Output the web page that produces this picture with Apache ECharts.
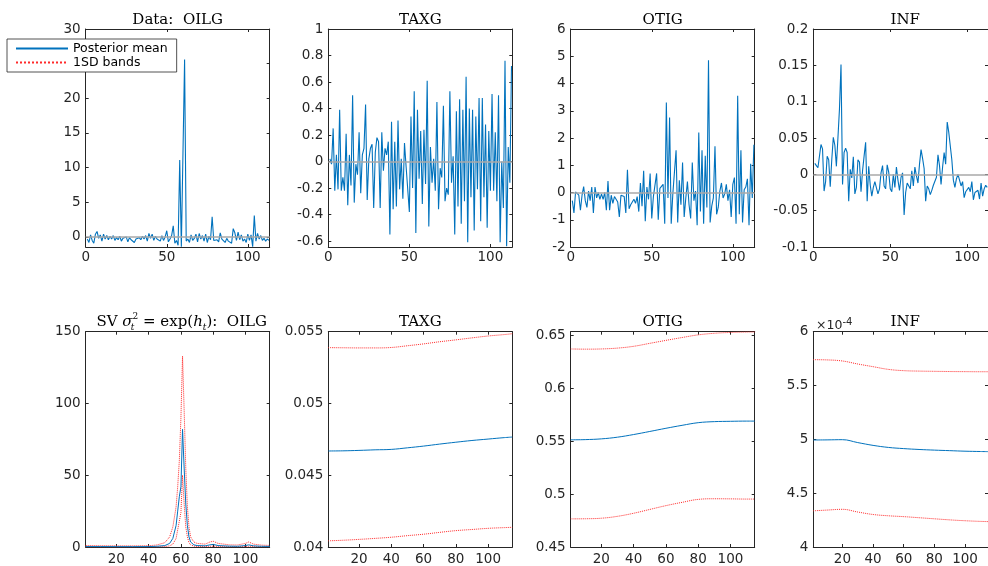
<!DOCTYPE html>
<html><head><meta charset="utf-8">
<script src="https://cdn.jsdelivr.net/npm/echarts@6/dist/echarts.min.js"></script>
<style>html,body{margin:0;padding:0;background:#fff}#c{width:988px;height:566px}</style>
</head><body><div id="c"></div>
<script>
// ---------- Data panels (top row), observations 1..113 ----------
const oilg = [-0.3,-0.8,0.3,-0.5,-0.9,0.4,0.8,-0.2,0.3,-0.6,
  0.4,-0.3,0.2,-0.4,0.1,-0.3,0.2,-0.5,-0.1,-0.4,
  0.1,-0.6,-0.2,-0.3,0.0,-0.7,-0.1,-0.4,-0.2,-0.8,
  -0.3,-0.5,-0.1,-0.4,0.1,-0.3,0.2,-0.6,0.5,-0.2,
  0.4,-0.5,0.1,-0.3,-0.1,-0.6,0.2,-0.5,0.0,0.9,
  -0.7,-0.3,0.2,1.6,-0.9,-0.5,-1.2,11.1,-1.4,-1.3,25.6,
  -0.6,-0.3,-0.8,0.3,-0.5,-0.2,0.4,-0.7,0.5,
  -0.3,0.2,-0.6,0.4,-0.8,0.1,-0.4,2.9,-0.5,-0.6,
  -0.4,-0.7,0.6,-0.3,-0.5,-0.8,-0.2,-0.6,-0.4,-0.9,
  1.2,0.6,-0.5,0.7,-0.4,0.3,-0.6,-0.3,-0.8,0.4,
  -0.5,0.3,-1.4,3.1,-0.6,0.5,-0.3,0.2,-0.5,-0.2,
  -0.6,-0.3,-0.5];
const taxg = [0.02,-0.02,0.25,-0.22,0.05,-0.21,0.39,-0.22,-0.12,-0.22,
  0.21,-0.33,0.05,-0.18,0.50,-0.31,-0.02,-0.10,0.22,-0.24,
  0.05,0.10,0.43,-0.29,0.02,0.10,0.13,-0.35,0.07,0.18,
  0.15,-0.35,0.22,-0.07,0.10,0.05,0.15,-0.55,0.30,-0.36,
  0.15,-0.34,0.31,-0.21,0.02,-0.28,0.14,-0.04,-0.04,-0.38,
  0.34,-0.20,0.53,-0.54,0.39,-0.13,0.23,-0.32,0.24,-0.17,
  0.61,-0.49,0.11,-0.16,0.02,-0.22,0.45,-0.36,-0.05,-0.12,
  0.42,-0.30,-0.20,-0.25,0.53,-0.16,0.04,-0.55,0.38,-0.34,
  0.47,-0.47,0.39,-0.30,0.64,-0.61,0.40,-0.27,0.39,-0.52,
  0.34,-0.21,0.48,-0.45,0.48,-0.27,0.28,-0.50,0.23,-0.22,
  0.51,-0.22,0.22,-0.30,0.50,-0.61,0.00,-0.35,0.76,-0.64,
  0.11,-0.16,0.72];
const otig = [-0.3,-0.75,0.02,0.0,-0.1,-0.65,-0.1,0.22,-0.3,-0.55,
  0.05,-0.3,0.2,-0.75,0.2,-0.2,0.0,-0.25,-0.05,-0.25,
  0.0,-0.65,0.42,-0.65,-0.1,-0.4,-0.15,-0.2,-0.35,-0.9,
  -0.1,-0.05,-0.15,-0.75,0.83,-0.6,-0.45,-0.35,-0.25,-0.4,
  -0.15,-0.7,0.35,-0.5,0.8,-1.05,0.2,-0.25,0.7,-0.95,
  -0.15,-0.2,0.7,-1.0,0.15,0.2,0.3,-1.15,3.3,-0.2,
  2.75,-1.15,-0.05,0.0,1.55,-1.1,0.45,-0.45,1.1,-0.9,
  -0.2,0.4,-0.45,-0.95,1.1,-0.3,0.05,-1.2,2.2,-0.7,
  1.55,-1.15,1.35,-0.55,4.85,-1.1,-0.5,-0.2,1.7,-0.8,
  -0.55,0.05,0.35,-0.2,-0.05,0.3,-0.3,0.1,-0.9,0.3,
  0.55,-1.15,3.55,-0.8,1.55,-1.1,0.1,0.2,0.5,-1.2,
  1.05,-0.2,1.75];
const inf = [0.015,0.012,0.009,0.008,0.041,0.035,-0.023,-0.010,0.025,0.020,
  -0.017,0.020,0.051,0.040,0.011,0.050,0.090,0.151,-0.014,0.030,
  0.036,0.030,-0.037,0.007,-0.005,0.024,-0.027,-0.018,0.020,0.017,
  -0.024,0.005,0.025,0.044,-0.037,0.011,-0.015,-0.030,-0.018,-0.010,
  -0.012,-0.027,-0.020,0.002,0.012,-0.016,-0.020,0.013,0.003,-0.020,
  -0.024,0.000,-0.018,0.010,-0.008,-0.022,-0.004,0.002,-0.056,-0.025,
  -0.012,-0.013,-0.020,0.005,-0.016,0.010,-0.002,-0.012,0.014,0.034,
  0.022,0.008,-0.037,-0.016,-0.020,-0.028,-0.022,-0.015,-0.016,-0.004,
  0.027,0.012,-0.014,0.010,0.030,0.014,0.072,0.058,0.057,0.020,
  -0.008,-0.018,-0.006,0.000,-0.002,-0.016,-0.010,-0.032,-0.024,-0.022,
  -0.018,-0.024,-0.010,-0.035,-0.025,-0.024,-0.022,-0.034,-0.012,-0.030,
  -0.020,-0.015,-0.018];

// ---------- Stochastic volatility panels (bottom row) ----------
const svOilgX    = [1,10,20,30,40,45,50,53,55,57,58,59,60,61,62,63,64,65,66,68,70,75,78,80,83,90,95,100,102,105,110,115];
const svOilgMean = [0.3,0.3,0.25,0.25,0.3,0.5,1,2.5,6,15,25,35,42,82,55,30,15,7,3.5,1.5,1,0.8,1.5,1.8,1,0.6,0.5,1,1.5,0.8,0.5,0.4];
const svOilgUp   = [1,0.9,0.8,0.8,0.9,1.4,3,7,14,28,42,60,90,133,95,55,28,14,7,3.5,2.5,2,3.5,4,2.5,1.5,1.4,2.5,3.5,2,1.3,1.1];
const svOilgLo   = [0.1,0.1,0.08,0.08,0.1,0.15,0.3,0.8,2,6,12,18,24,50,30,14,7,3,1.5,0.6,0.4,0.3,0.5,0.6,0.4,0.2,0.2,0.4,0.5,0.3,0.2,0.15];

const svX = [1,10,20,30,40,50,60,70,80,90,100,110,115];
const svTaxgMean = [0.04669,0.04670,0.04673,0.04677,0.04680,0.04691,0.04703,0.04717,0.04730,0.04742,0.04752,0.04762,0.04766];
const svTaxgUp   = [0.05389,0.05388,0.05387,0.05387,0.05390,0.05402,0.05415,0.05430,0.05443,0.05457,0.05470,0.05480,0.05486];
const svTaxgLo   = [0.04043,0.04047,0.04053,0.04060,0.04068,0.04079,0.04089,0.04102,0.04114,0.04122,0.04130,0.04135,0.04137];
const svOtigMean = [0.5513,0.5515,0.5522,0.5538,0.5563,0.5592,0.5622,0.5650,0.5675,0.5685,0.5688,0.5690,0.5690];
const svOtigUp   = [0.6372,0.6370,0.6372,0.6380,0.6397,0.6425,0.6453,0.6480,0.6505,0.6520,0.6528,0.6532,0.6533];
const svOtigLo   = [0.4766,0.4767,0.4772,0.4790,0.4819,0.4855,0.4891,0.4922,0.4950,0.4956,0.4955,0.4953,0.4953];
// INF values in units of 1e-4
const svInfMean  = [4.994,4.995,4.997,4.970,4.944,4.925,4.914,4.906,4.900,4.895,4.890,4.887,4.886];
const svInfUp    = [5.740,5.738,5.728,5.700,5.675,5.650,5.638,5.634,5.632,5.630,5.629,5.628,5.628];
const svInfLo    = [4.336,4.343,4.350,4.325,4.302,4.290,4.282,4.272,4.262,4.252,4.244,4.238,4.236];

// ---------- Tick labels ----------
const topXTicks = [0,50,100];
const botXTicks = [20,40,60,80,100];
const yTicksOilg = [0,5,10,15,20,25,30];
const yTicksTaxg = [-0.6,-0.4,-0.2,0,0.2,0.4,0.6,0.8,1];
const yTicksOtig = [-2,-1,0,1,2,3,4,5,6];
const yTicksInf  = [-0.1,-0.05,0,0.05,0.1,0.15,0.2];
const yTicksSvOilg = [0,50,100,150];
const yTicksSvTaxg = [0.04,0.045,0.05,0.055];
const yTicksSvOtig = [0.45,0.5,0.55,0.6,0.65];
const yTicksSvInf  = [4,4.5,5,5.5,6];

const topTitles = ['Data:  OILG','TAXG','OTIG','INF'];
const botTitles = ['OILG','TAXG','OTIG','INF'];

// ---------- Layout / style ----------
const AX = '#262626', BLUE = '#0072BD', RED = '#ff2a2a';
const SANS = 'DejaVu Sans', SERIF = 'DejaVu Serif';
const colLeft = [85.7, 328.3, 570.7, 813.3];
const W = 184, TOP1 = 29, H1 = 218, TOP2 = 331.7, H2 = 217;

const fmt = v => String(parseFloat(Number(v).toFixed(6)));

const grids = [], xAxes = [], yAxes = [], series = [];

function addPanel(gi, left, top, height, xr, yr, xt, yt, xMargin) {
  grids.push({left: left, top: top, width: W, height: height, show: false});
  const base = (pos, ticks, lbl, margin) => ({
    type: 'value', gridIndex: gi, position: pos,
    axisLine: {show: true, onZero: false, lineStyle: {color: AX, width: 1}},
    axisTick: {show: true, inside: true, length: 3, customValues: ticks, lineStyle: {color: AX, width: 1}},
    axisLabel: {show: lbl, customValues: ticks, margin: margin, color: AX, fontSize: 13.5, fontFamily: SANS, formatter: fmt},
    splitLine: {show: false}
  });
  xAxes.push(Object.assign(base('bottom', xt, true, xMargin), {min: xr[0], max: xr[1]}));
  xAxes.push(Object.assign(base('top', xt, false, 0), {min: xr[0], max: xr[1]}));
  yAxes.push(Object.assign(base('left', yt, true, 5), {min: yr[0], max: yr[1]}));
  yAxes.push(Object.assign(base('right', yt, false, 0), {min: yr[0], max: yr[1]}));
}

const topData = [oilg, taxg, otig, inf];
const topYR = [[-1.45,30],[-0.645,1],[-2,6],[-0.1,0.2]];
const topYT = [yTicksOilg, yTicksTaxg, yTicksOtig, yTicksInf];
for (let k = 0; k < 4; k++) {
  addPanel(k, colLeft[k], TOP1, H1, [0, 113.5], topYR[k], topXTicks, topYT[k], 3);
  series.push({
    type: 'line', xAxisIndex: 2*k, yAxisIndex: 2*k, symbol: 'none',
    lineStyle: {color: BLUE, width: 1.1}, itemStyle: {color: BLUE},
    data: topData[k].map((v, i) => [i + 1, v]),
    markLine: {silent: true, symbol: 'none', label: {show: false},
      lineStyle: {color: '#a8a8a8', width: 1.5, type: 'solid'}, data: [{yAxis: 0}]}
  });
}

const botSets = [
  [svOilgX, svOilgMean, svOilgUp, svOilgLo, [0,150], yTicksSvOilg, false],
  [svX, svTaxgMean, svTaxgUp, svTaxgLo, [0.04,0.055], yTicksSvTaxg, 0.4],
  [svX, svOtigMean, svOtigUp, svOtigLo, [0.45,0.6535], yTicksSvOtig, 0.4],
  [svX, svInfMean, svInfUp, svInfLo, [4,6], yTicksSvInf, 0.4]
];
for (let k = 0; k < 4; k++) {
  const gi = 4 + k;
  const [xs, m, u, l, yr, yt, sm] = botSets[k];
  addPanel(gi, colLeft[k], TOP2, H2, [1, 115], yr, botXTicks, yt, 5);
  const mk = (name, arr, color, type) => ({
    name: name, type: 'line', xAxisIndex: 2*gi, yAxisIndex: 2*gi, symbol: 'none',
    smooth: sm, lineStyle: {color: color, width: 1, type: type}, itemStyle: {color: color},
    data: arr.map((v, i) => [xs[i], v])
  });
  series.push(mk('1SD bands', u, RED, 'dotted'));
  series.push(mk('1SD bands', l, RED, 'dotted'));
  series.push(mk('Posterior mean', m, BLUE, 'solid'));
}

// ---------- Titles ----------
const graphics = [];
for (let k = 0; k < 4; k++) {
  graphics.push({type: 'text', x: colLeft[k] + W/2, y: 20, z: 50,
    style: {text: topTitles[k], font: '15px ' + SERIF, fill: '#000', align: 'center', verticalAlign: 'middle'}});
}
graphics.push({type: 'text', x: colLeft[0] + W/2 + 4, y: 321.7, z: 50,
  style: {
    text: '{n|SV }{i|σ}{sub|t}{sup|2}{n| = exp(}{i|h}{sb2|t}{n|):  ' + botTitles[0] + '}',
    align: 'center', verticalAlign: 'middle', fill: '#000',
    rich: {
      n: {fontFamily: SERIF, fontSize: 15, lineHeight: 20, verticalAlign: 'middle'},
      i: {fontFamily: SERIF, fontSize: 15, fontStyle: 'italic', lineHeight: 20, verticalAlign: 'middle'},
      sub: {fontFamily: SERIF, fontSize: 9, fontStyle: 'italic', verticalAlign: 'bottom', lineHeight: 20, width: 0},
      sb2: {fontFamily: SERIF, fontSize: 9, fontStyle: 'italic', verticalAlign: 'bottom', lineHeight: 20},
      sup: {fontFamily: SERIF, fontSize: 9, verticalAlign: 'top', lineHeight: 20}
    }
  }});
for (let k = 1; k < 4; k++) {
  graphics.push({type: 'text', x: colLeft[k] + W/2, y: 321.7, z: 50,
    style: {text: botTitles[k], font: '15px ' + SERIF, fill: '#000', align: 'center', verticalAlign: 'middle'}});
}
graphics.push({type: 'text', x: 816, y: 326, z: 50,
  style: {text: '{a|×10}{b|-4}', align: 'left', verticalAlign: 'middle', fill: AX,
    rich: {a: {fontFamily: SANS, fontSize: 12.5, lineHeight: 18, verticalAlign: 'middle'},
           b: {fontFamily: SANS, fontSize: 10, lineHeight: 18, verticalAlign: 'top'}}}});

const chart = echarts.init(document.getElementById('c'), null, {renderer: 'canvas'});
chart.setOption({
  animation: false,
  backgroundColor: '#fff',
  grid: grids, xAxis: xAxes, yAxis: yAxes, series: series,
  legend: {
    orient: 'vertical', left: 7, top: 39, padding: [3, 9, 3, 8], itemGap: 1,
    itemWidth: 52, itemHeight: 14, backgroundColor: '#fff', borderColor: AX, borderWidth: 0.8,
    borderRadius: 0, z: 100, data: ['Posterior mean', '1SD bands'],
    itemStyle: {opacity: 0},
    textStyle: {fontSize: 12.5, fontFamily: SANS, color: '#000'}, selectedMode: false
  },
  graphic: graphics
});
</script></body></html>
